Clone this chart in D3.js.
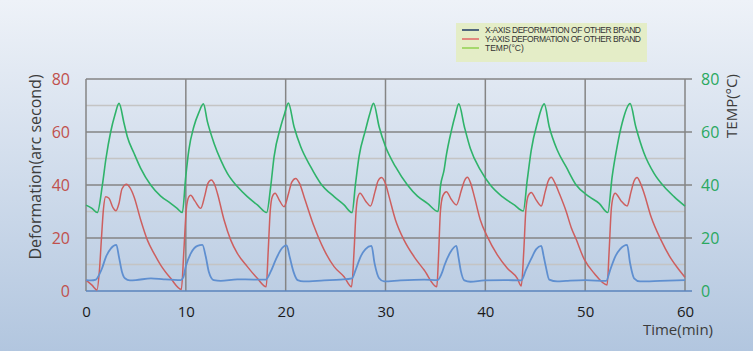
<!DOCTYPE html>
<html><head><meta charset="utf-8">
<script src="https://cdn.jsdelivr.net/npm/d3@7"></script>
<style>html,body{margin:0;padding:0;overflow:hidden;} svg{display:block;}</style>
</head><body>
<svg id="chart" width="753" height="351"></svg>
<script>
// ---- data ----
const timeTicks = [0, 10, 20, 30, 40, 50, 60];
const leftTicks = [0, 20, 40, 60, 80];
const rightTicks = [0, 20, 40, 60, 80];
const minorTicks = [10, 30, 50, 70];
const seriesNames = ["X-AXIS DEFORMATION OF OTHER BRAND", "Y-AXIS DEFORMATION OF OTHER BRAND", "TEMP(\u00B0C)"];

// [time (min), arc second]
const xDeformation = [
  [0,4.1],[0.5,4.0],[1.0,4.3],[1.3,6],[1.6,8.5],[2.0,12.9],[2.5,16.1],[3.04,17.4],[3.3,12.9],[3.6,7.3],[3.9,4.8],[4.4,4.0],[5.0,4.1],[6.5,4.8],[7.8,4.4],[9.5,4.1],
  [9.75,5.2],[9.99,9.2],[10.5,14.2],[11.16,17],[11.66,17.4],[12.0,12.9],[12.3,7.3],[12.8,4.1],[13.5,3.8],[15.16,4.4],[16.8,4.3],[18.0,4.3],
  [18.5,7.3],[19.0,11.7],[19.5,15.5],[20.1,17.2],[20.4,12.9],[20.78,7.3],[21.2,4.1],[21.8,3.6],[23.85,4.0],[25.5,4.3],[26.65,4.8],
  [27.0,7.9],[27.5,12.9],[28.0,15.8],[28.6,17],[28.9,10.5],[29.36,4.8],[29.86,3.6],[31.5,4.0],[33.87,4.3],[35.2,4.1],
  [35.7,7.3],[35.9,9.6],[36.5,14.6],[37.1,17],[37.3,13],[37.55,7.5],[37.9,4.0],[38.5,3.5],[39.9,4.0],[41.9,4.1],[43.6,4.0],
  [44.06,7.9],[44.6,12.2],[45.1,15.8],[45.6,17],[45.85,13],[46.06,9.2],[46.4,4.3],[47.2,3.6],[48.1,3.8],[50.0,4.1],[52.1,3.8],
  [52.5,7.9],[53.0,12.9],[53.5,15.8],[54.2,17.4],[54.5,10.5],[54.9,4.8],[55.5,3.6],[57.5,3.8],[60,4.1]
];
const yDeformation = [
  [0,4.1],[0.6,2.2],[1.1,0.4],[1.35,8],[1.55,20],[1.75,31],[1.97,35.6],[2.3,35],[2.7,31.5],[3.0,30.3],[3.3,33],[3.6,38.5],[4.07,40.3],[4.4,39],[4.81,35.6],[5.48,26.8],[6.15,19.2],[6.81,14.2],[7.48,9.8],[8.48,4.8],[9.55,0.6],
  [9.8,15],[10.05,31],[10.3,35.5],[10.49,36.1],[10.9,34],[11.49,31.2],[11.9,36],[12.2,40.5],[12.56,41.9],[12.9,40],[13.16,36.9],[13.83,26.8],[14.5,19.2],[15.16,14.2],[16.16,9.2],[17.16,4.8],[18.05,1.6],
  [18.25,15],[18.45,30],[18.65,35.5],[18.94,36.9],[19.4,34],[19.84,31.8],[20.3,37],[20.6,41],[21.0,42.5],[21.4,40.5],[21.84,35.6],[22.85,24.3],[23.85,15.5],[24.85,9.2],[25.85,5.4],[26.6,1.6],
  [26.85,15],[27.05,30],[27.2,35],[27.45,36.9],[28.0,34],[28.5,32.1],[28.95,37.5],[29.25,41.5],[29.6,42.8],[30.0,40.5],[30.36,35.6],[31.0,26.8],[31.86,19.2],[32.87,12.9],[33.87,7.9],[35.14,1.6],
  [35.3,12],[35.5,30],[35.75,36],[36.1,37.5],[36.6,34.5],[37.1,32.5],[37.6,38],[37.9,41.5],[38.2,42.9],[38.5,41],[38.9,35.6],[39.5,26.8],[40.2,20.5],[41.2,13.6],[42.2,8.6],[43.2,4.8],[43.6,1.9],
  [43.85,15],[44.05,30],[44.3,36],[44.6,37.2],[45.1,34.3],[45.6,32.1],[46.0,37.5],[46.3,41.5],[46.6,42.9],[47.0,40.5],[47.4,36.9],[48.1,30],[48.6,24],[49.1,19.5],[49.9,12],[50.9,6.7],[52.2,2.3],
  [52.4,15],[52.6,30],[52.8,35.5],[53.0,36.9],[53.6,34],[54.2,32.1],[54.6,37.5],[54.9,41.5],[55.2,42.8],[55.5,41],[55.9,36.9],[56.6,28],[57.6,19.2],[58.6,12.2],[59.3,8.5],[60,5.2]
];
// [time (min), °C]
const temperature = [
  [0,32.4],[0.6,31.2],[1.13,29.6],[1.64,40],[2.0,50],[2.47,60],[2.9,66.5],[3.31,70.8],[3.81,63.3],[4.14,58.2],[4.81,52],[5.48,46.3],[6.48,40],[7.48,35.8],[8.48,33.1],[9.1,31.3],[9.65,29.6],
  [9.99,43.1],[10.3,53.2],[10.8,62],[11.3,67.3],[11.76,70.6],[12.16,63.9],[12.83,55.7],[13.5,49.4],[14.16,44.4],[15.16,39.4],[16.16,35.6],[17.17,32.5],[18.1,29.6],
  [18.5,39.4],[18.84,50.7],[19.5,62],[19.9,67],[20.27,70.9],[20.84,62],[21.5,54.5],[22.5,46.9],[23.5,40.6],[24.85,35.6],[25.85,32.5],[26.65,29.6],
  [27.0,40.6],[27.35,50.7],[28.0,60.8],[28.4,66.5],[28.8,70.8],[29.36,62],[30.0,54.5],[31.0,46.9],[32.2,40],[33.2,35.8],[34.2,33.1],[35.27,30],
  [35.5,39.4],[35.87,45.7],[36.07,50.7],[36.6,60.5],[37.0,66.5],[37.34,70.6],[37.9,62],[38.5,53.8],[39.5,45.7],[40.5,40],[41.7,35.6],[42.9,32.5],[43.8,30.2],
  [44.2,41.9],[44.6,53.2],[45.2,63.3],[45.9,70.6],[46.4,62],[47.2,53.2],[48.1,46.8],[49.1,40],[50.4,35.6],[51.4,33.1],[52.27,29.6],
  [52.7,43.1],[53.2,54.5],[53.7,63.3],[54.5,70.7],[55.07,62],[55.9,52],[56.9,44.4],[57.9,39.4],[58.9,35.6],[60,32.0]
];

// ---- drawing ----
const W = 753, H = 351;
const svg = d3.select("#chart");
const defs = svg.append("defs");
const grad = defs.append("linearGradient").attr("id","bg").attr("x1",0).attr("y1",0).attr("x2",0).attr("y2",1);
grad.append("stop").attr("offset","0%").attr("stop-color","#eef2f8");
grad.append("stop").attr("offset","100%").attr("stop-color","#b2c6df");
svg.append("rect").attr("width",W).attr("height",H).attr("fill","url(#bg)");

const x = d3.scaleLinear().domain([0,60]).range([86,685]);
const yL = d3.scaleLinear().domain([0,80]).range([291,79]);
const yR = d3.scaleLinear().domain([0,80]).range([291,79]);

const font = "'Open Sans', 'Noto Sans', sans-serif";

// minor gridlines
svg.append("g").selectAll("line").data(minorTicks).join("line")
  .attr("x1",x(0)).attr("x2",x(60)).attr("y1",d=>yL(d)).attr("y2",d=>yL(d))
  .attr("stroke","#c4c4c4").attr("stroke-width",1.5);
// major gridlines (extend past right axis as ticks)
svg.append("g").selectAll("line").data(leftTicks.filter(d=>d>0)).join("line")
  .attr("x1",x(0)).attr("x2",x(60)+7).attr("y1",d=>yL(d)).attr("y2",d=>yL(d))
  .attr("stroke","#858585").attr("stroke-width",1.5);
// vertical gridlines
svg.append("g").selectAll("line").data(timeTicks).join("line")
  .attr("x1",d=>x(d)).attr("x2",d=>x(d)).attr("y1",yL(80)).attr("y2",yL(0))
  .attr("stroke","#858585").attr("stroke-width",1.5);
// baseline
svg.append("line").attr("x1",x(0)).attr("x2",x(60)+7).attr("y1",yL(0)).attr("y2",yL(0))
  .attr("stroke","#5b83bd").attr("stroke-width",1.5);

// axes labels
const axL = svg.append("g").attr("transform",`translate(${x(0)-14},0)`)
  .call(d3.axisLeft(yL).tickValues(leftTicks).tickSize(0).tickPadding(2));
axL.select(".domain").remove();
axL.selectAll("text").attr("fill","#c0504d").style("font-family",font).style("font-size","16px");

const axR = svg.append("g").attr("transform",`translate(${x(60)+14},0)`)
  .call(d3.axisRight(yR).tickValues(rightTicks).tickSize(0).tickPadding(2));
axR.select(".domain").remove();
axR.selectAll("text").attr("fill","#2aa860").style("font-family",font).style("font-size","16px");

const axB = svg.append("g").attr("transform",`translate(0,${yL(0)+15})`)
  .call(d3.axisBottom(x).tickValues(timeTicks).tickSize(0).tickPadding(0));
axB.select(".domain").remove();
axB.selectAll("text").attr("fill","#1a1a1a").style("font-family",font).style("font-size","15px");

// titles
svg.append("text").attr("transform","translate(41,167) rotate(-90)").attr("text-anchor","middle")
  .attr("fill","#3c3c3c").style("font-family",font).style("font-size","16px").text("Deformation(arc second)");
svg.append("text").attr("transform","translate(737,106) rotate(-90)").attr("text-anchor","middle")
  .attr("fill","#3c3c3c").style("font-family",font).style("font-size","15px").text("TEMP(\u00B0C)");
svg.append("text").attr("x",713).attr("y",335).attr("text-anchor","end")
  .attr("fill","#3c3c3c").style("font-family",font).style("font-size","15px").text("Time(min)");

// lines
const line = d3.line().x(d=>x(d[0])).curve(d3.curveMonotoneX);
svg.append("path").datum(temperature).attr("fill","none").attr("stroke","#2fb36a").attr("stroke-width",1.6)
  .attr("d", line.y(d=>yR(d[1])));
svg.append("path").datum(yDeformation).attr("fill","none").attr("stroke","#cd5f5f").attr("stroke-width",1.5)
  .attr("d", line.y(d=>yL(d[1])));
svg.append("path").datum(xDeformation).attr("fill","none").attr("stroke","#5f8fd0").attr("stroke-width",1.8)
  .attr("d", line.y(d=>yL(d[1])));

// legend
const lg = svg.append("g");
lg.append("rect").attr("x",456).attr("y",23).attr("width",191).attr("height",39).attr("fill","#e4edc7");
const legendColors = ["#1f3864","#e06666","#92d050"];
seriesNames.forEach((n,i)=>{
  const yy = 30 + i*9;
  lg.append("line").attr("x1",462).attr("x2",479).attr("y1",yy).attr("y2",yy)
    .attr("stroke",legendColors[i]).attr("stroke-width",1.5);
  lg.append("text").attr("x",485).attr("y",yy+3).attr("fill","#333")
    .attr("textLength", i < 2 ? 156 : null)
    .style("font-family","'Liberation Sans', Arial, sans-serif").style("font-size","8.5px").text(n);
});
</script>
</body></html>
